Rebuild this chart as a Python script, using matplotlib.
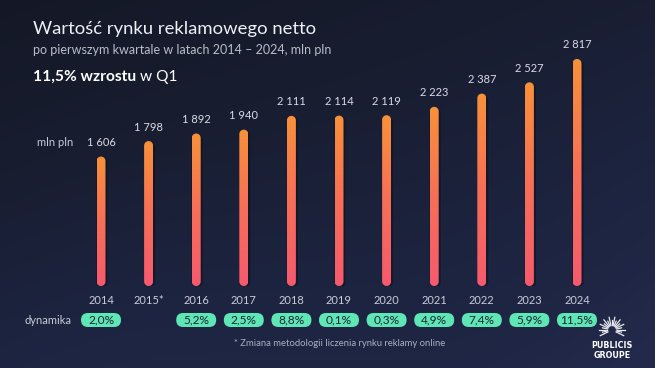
import numpy as np
import matplotlib
matplotlib.use("Agg")
import matplotlib.pyplot as plt
from matplotlib.patches import FancyBboxPatch, PathPatch
from matplotlib.path import Path
from matplotlib.colors import LinearSegmentedColormap
import matplotlib.transforms as mtransforms

years = ["2014", "2015*", "2016", "2017", "2018", "2019", "2020", "2021", "2022", "2023", "2024"]
values = [1606, 1798, 1892, 1940, 2111, 2114, 2119, 2223, 2387, 2527, 2817]
value_labels = ["1 606", "1 798", "1 892", "1 940", "2 111", "2 114", "2 119", "2 223", "2 387", "2 527", "2 817"]
dynamics = ["2,0%", None, "5,2%", "2,5%", "8,8%", "0,1%", "0,3%", "4,9%", "7,4%", "5,9%", "11,5%"]

FONT = "Lato"
W, H = 655, 368
fig = plt.figure(figsize=(W / 100, H / 100), dpi=100)

# background
bg = fig.add_axes([0, 0, 1, 1])
bg.set_xlim(0, 1); bg.set_ylim(0, 1); bg.axis("off")
yy, xx = np.mgrid[0:1:200j, 0:1:360j]
t = np.clip(0.55 * (1 - yy) + 0.35 * xx + 0.08 * np.sin(xx * 5 + 1.0) * (1 - yy), 0, 1)
bgcmap = LinearSegmentedColormap.from_list("bg", ["#141826", "#181d30", "#1d2440", "#232a4c"])
bg.imshow(t, cmap=bgcmap, extent=[0, 1, 1, 0], aspect="auto", interpolation="bicubic", zorder=0)

# logo (decorative starburst + text)
cx, cy, r = 612 / W, 1 - 330 / H, 13 / W
ang = np.linspace(0, 2 * np.pi, 28, endpoint=False)
for k, a in enumerate(ang):
    if np.sin(a) < -0.5:
        continue
    rr = r * (1.0 if k % 2 == 0 else 0.75)
    bg.plot([cx + 0.35 * r * np.cos(a), cx + rr * np.cos(a)],
            [cy + 0.35 * r * np.sin(a) * W / H, cy + rr * np.sin(a) * W / H],
            color="#e8e8ee", lw=0.9, zorder=2)
bg.text(612 / W, 1 - 346 / H, "PUBLICIS", color="white", fontsize=5.8, fontweight="bold",
        ha="center", va="center", family="DejaVu Sans", zorder=3)
bg.text(612 / W, 1 - 356 / H, "GROUPE", color="white", fontsize=5.8, fontweight="bold",
        ha="center", va="center", family="DejaVu Sans", zorder=3)

# titles
fig.text(33 / W, 1 - 29 / H, "Wartość rynku reklamowego netto", color="#eef0f5",
         fontsize=13.3, family=FONT, va="center", ha="left")
fig.text(33 / W, 1 - 50 / H, "po pierwszym kwartale w latach 2014 – 2024, mln pln", color="#b9bdca",
         fontsize=9.0, family=FONT, va="center", ha="left")
t1 = fig.text(33 / W, 1 - 77 / H, "11,5% wzrostu", color="white", fontsize=11.2,
              fontweight="bold", family=FONT, va="center", ha="left")
fig.canvas.draw()
bb = t1.get_window_extent()
fig.text(bb.x1 / W, 1 - 77 / H, " w Q1", color="white", fontsize=11.2, family=FONT,
         va="center", ha="left")

# bar axes
px_per_cat = 47.6
x0_px = 101
left_px = x0_px - 0.5 * px_per_cat
right_px = x0_px + 10.5 * px_per_cat
zero_px = 286
ymax = 3000
px_per_unit = 0.0806
top_px = zero_px - ymax * px_per_unit
ax = fig.add_axes([left_px / W, 1 - zero_px / H, (right_px - left_px) / W, (zero_px - top_px) / H])
ax.set_xlim(-0.5, 10.5)
ax.set_ylim(0, ymax)
ax.axis("off")

barcmap = LinearSegmentedColormap.from_list("bar", ["#f65a6e", "#f76f57", "#f8913a"])
grad = np.linspace(0, 1, 256).reshape(-1, 1)
bar_px = 9.0
rx = bar_px / 2 / px_per_cat          # half width in x data units
ry = bar_px / 2 / px_per_unit         # same radius in y data units


def rounded_bar(xc, top, rxx, ryy, bottom=0.0):
    th_top = np.linspace(0, np.pi, 30)
    th_bot = np.linspace(np.pi, 2 * np.pi, 30)
    xs = np.concatenate([xc + rxx * np.cos(th_top), xc + rxx * np.cos(th_bot)])
    ys = np.concatenate([top - ryy + ryy * np.sin(th_top), bottom + ryy + ryy * np.sin(th_bot)])
    verts = np.column_stack([xs, ys])
    verts = np.vstack([verts, verts[:1]])
    codes = [Path.MOVETO] + [Path.LINETO] * (len(verts) - 2) + [Path.CLOSEPOLY]
    return Path(verts, codes)


for i, v in enumerate(values):
    sh = PathPatch(rounded_bar(i + 0.02, v - 10, rx * 1.25, ry * 1.25, bottom=-25),
                   facecolor="#0b0d18", edgecolor="none", alpha=0.45, zorder=1,
                   transform=ax.transData)
    ax.add_patch(sh)
    patch = PathPatch(rounded_bar(i, v, rx, ry), facecolor="none", edgecolor="none",
                      zorder=2, transform=ax.transData)
    ax.add_patch(patch)
    im = ax.imshow(grad, cmap=barcmap, extent=[i - rx, i + rx, 0, v], origin="lower",
                   aspect="auto", zorder=2, interpolation="bilinear")
    im.set_clip_path(patch)
    ax.annotate(value_labels[i], (i, v), xytext=(0, 14), textcoords="offset pixels",
                ha="center", va="center", color="#d9dce6", fontsize=8, family=FONT)

fig.canvas.draw()
trans = mtransforms.blended_transform_factory(ax.transData, fig.transFigure)
pill_w, pill_h = 40, 14
for i, yl in enumerate(years):
    ax.text(i, 1 - 300 / H, yl, transform=trans, ha="center", va="center",
            color="#c9ccd8", fontsize=8, family=FONT)
    d = dynamics[i]
    if d:
        xc = ax.transData.transform((i, 0))[0]
        yc = H - 320
        pill = FancyBboxPatch((xc - pill_w / 2, yc - pill_h / 2), pill_w, pill_h,
                              boxstyle=f"round,pad=0,rounding_size={pill_h / 2}",
                              facecolor="#5fe6b5", edgecolor="none",
                              transform=mtransforms.IdentityTransform(), zorder=3)
        fig.add_artist(pill)
        fig.text(xc / W, 1 - 320 / H, d, ha="center", va="center", zorder=4,
                 color="#1b2236", fontsize=8.6, family=FONT)

fig.text(55 / W, 1 - 143 / H, "mln pln", color="#c9ccd8", fontsize=8, family=FONT,
         ha="center", va="center")
fig.text(48 / W, 1 - 320 / H, "dynamika", color="#c9ccd8", fontsize=8, family=FONT,
         ha="center", va="center")
fig.text(340 / W, 1 - 343 / H, "* Zmiana metodologii liczenia rynku reklamy online",
         color="#aab0c0", fontsize=6.8, family=FONT, ha="center", va="center")

fig.savefig("out.png", dpi=100)
